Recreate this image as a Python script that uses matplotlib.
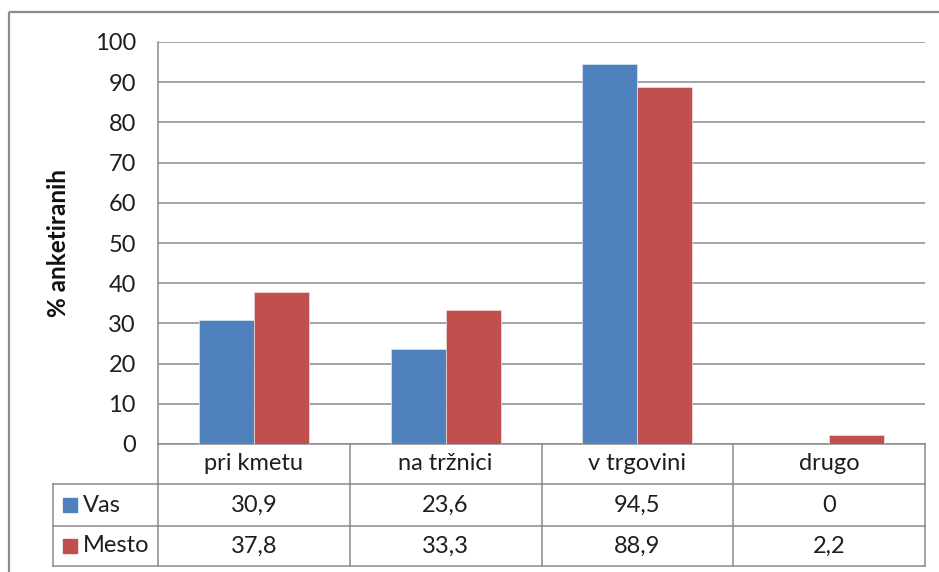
import matplotlib
matplotlib.use("Agg")
import matplotlib.pyplot as plt
import matplotlib.transforms as mtransforms
from matplotlib.patches import Rectangle
import numpy as np

categories = ["pri kmetu", "na tržnici", "v trgovini", "drugo"]
series_names = ["Vas", "Mesto"]
vas = [30.9, 23.6, 94.5, 0]
mesto = [37.8, 33.3, 88.9, 2.2]
vas_labels = ["30,9", "23,6", "94,5", "0"]
mesto_labels = ["37,8", "33,3", "88,9", "2,2"]
yticks = list(range(0, 101, 10))

plt.rcParams['font.family'] = ['Lato', 'DejaVu Sans']

W, H = 939, 572
fig = plt.figure(figsize=(W / 100, H / 100), dpi=100)

# outer chart border
fig.patches.append(Rectangle((9 / W, 1 - 12 / H), 2, -2, transform=fig.transFigure,
                             fill=False, edgecolor='#8c8c8c', linewidth=1.6))

ax = fig.add_axes([158 / W, (H - 444) / H, 767 / W, 402 / H])
grid_c = '#8a8a8a'
blue = '#4F81BD'
red = '#C0504D'
txt_c = '#1e1e1e'
fs = 17

x = np.arange(len(categories))
bw = 0.287
ax.bar(x - bw / 2, vas, bw, color=blue, edgecolor='#dce6f1', linewidth=0.5, zorder=3)
ax.bar(x + bw / 2, mesto, bw, color=red, edgecolor='#f2dcdb', linewidth=0.5, zorder=3)

ax.set_xlim(-0.5, len(categories) - 0.5)
ax.set_ylim(0, 100)
ax.set_yticks(yticks)
ax.set_yticklabels([str(t) for t in yticks], fontsize=fs, color=txt_c)
ax.tick_params(axis='y', length=0, pad=16)
ax.set_xticks([])
ax.yaxis.grid(True, color=grid_c, linewidth=1.1)
ax.set_axisbelow(True)
for s in ['top', 'right']:
    ax.spines[s].set_visible(False)
ax.spines['left'].set_color(grid_c)
ax.spines['bottom'].set_color(grid_c)
ax.spines['left'].set_linewidth(1.1)
ax.spines['bottom'].set_linewidth(1.1)

fig.text(58 / W, 1 - 243 / H, "% anketiranih", rotation=90, ha='center', va='center',
         fontsize=17.5, fontweight='bold', color='#111111')

# data table
tr = mtransforms.blended_transform_factory(ax.transData, ax.transAxes)
ph = 402.0
r1 = -(484 - 444) / ph
r2 = -(526 - 444) / ph
r3 = -(566 - 444) / ph
xl = -0.5 - (158 - 53.3) / 191.75
xr = len(categories) - 0.5
lk = dict(color=grid_c, linewidth=1.1, transform=tr, clip_on=False)
for yy in [r1, r2, r3]:
    ax.plot([xl, xr], [yy, yy], **lk)
ax.plot([xl, xl], [r1, r3], **lk)
for b in np.arange(len(categories) + 1) - 0.5:
    ax.plot([b, b], [0, r3], **lk)

tk = dict(transform=tr, ha='center', va='center', fontsize=fs, color=txt_c, clip_on=False)
for i, c in enumerate(categories):
    ax.text(i, r1 / 2, c, **tk)
    ax.text(i, (r1 + r2) / 2, vas_labels[i], **tk)
    ax.text(i, (r2 + r3) / 2, mesto_labels[i], **tk)

sq = 14 / 191.75
for yy, name, col in [((r1 + r2) / 2, series_names[0], blue), ((r2 + r3) / 2, series_names[1], red)]:
    ax.add_patch(Rectangle((xl + 10 / 191.75, yy - 7 / ph), sq, 14 / ph, transform=tr,
                           color=col, clip_on=False))
    ax.text(xl + 30 / 191.75, yy, name, transform=tr, ha='left', va='center',
            fontsize=fs, color=txt_c, clip_on=False)

fig.savefig("out.png", dpi=100)
